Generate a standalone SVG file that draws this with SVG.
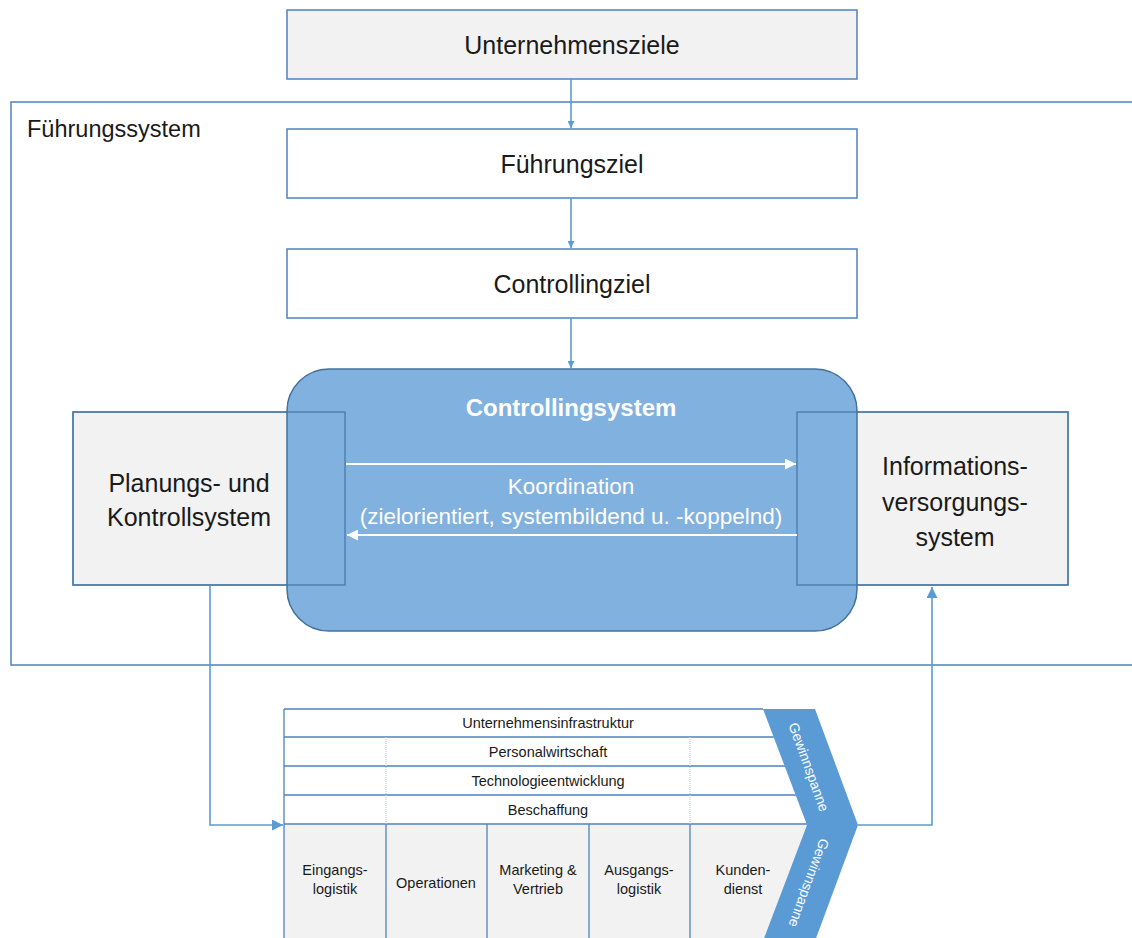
<svg xmlns="http://www.w3.org/2000/svg" width="1132" height="938" viewBox="0 0 1132 938">
  <style>
    text { font-family: "Liberation Sans", Arial, sans-serif; fill: #1a1a1a; text-anchor: middle; }
    .box { stroke: #4f81bd; stroke-width: 1.5; }
    .gray { fill: #f2f2f2; }
    .white { fill: #ffffff; }
    .lbl { font-size: 25px; }
    .side { font-size: 25px; }
    .small { font-size: 14.5px; }
    .wt { fill: #ffffff; }
    .conn { fill: none; stroke: #5b9bd5; stroke-width: 1.6; }
    .koord { fill: none; stroke: #ffffff; stroke-width: 2; }
    .row { stroke: #4f81bd; stroke-width: 1.3; }
    .div { stroke: #a9c8ea; stroke-width: 1; stroke-dasharray: 1 1; }
  </style>
  <defs>
    <marker id="arrBlue" viewBox="0 0 10 10" refX="10" refY="5" markerWidth="7" markerHeight="7" markerUnits="userSpaceOnUse" orient="auto">
      <path d="M0,0 L10,5 L0,10 z" fill="#5b9bd5"/>
    </marker>
    <marker id="arrBlueL" viewBox="0 0 10 10" refX="10" refY="5" markerWidth="11" markerHeight="11" markerUnits="userSpaceOnUse" orient="auto">
      <path d="M0,0 L10,5 L0,10 z" fill="#5b9bd5"/>
    </marker>
    <marker id="arrWhite" viewBox="0 0 10 10" refX="10" refY="5" markerWidth="11" markerHeight="11" markerUnits="userSpaceOnUse" orient="auto">
      <path d="M0,0 L10,5 L0,10 z" fill="#ffffff"/>
    </marker>
  </defs>

  <!-- frame of the management system, open to the right -->
  <g id="fuehrungssystem">
    <path d="M1140,102 L11,102 L11,665 L1140,665" fill="none" stroke="#4f81bd" stroke-width="1.5"/>
    <text x="27" y="137" style="text-anchor:start;font-size:23.5px">Führungssystem</text>
  </g>

  <g id="unternehmensziele">
    <rect class="box gray" x="287" y="10" width="570" height="69"/>
    <text class="lbl" x="572" y="54">Unternehmensziele</text>
  </g>

  <g id="fuehrungsziel">
    <rect class="box white" x="287" y="129" width="570" height="69"/>
    <text class="lbl" x="572" y="173">Führungsziel</text>
  </g>

  <g id="controllingziel">
    <rect class="box white" x="287" y="249" width="570" height="69"/>
    <text class="lbl" x="572" y="293">Controllingziel</text>
  </g>

  <g id="planung">
    <rect class="box gray" x="73" y="412" width="272" height="173" stroke="#41719c"/>
    <text class="side" x="189" y="492">Planungs- und</text>
    <text class="side" x="189" y="526">Kontrollsystem</text>
  </g>

  <g id="information">
    <rect class="box gray" x="797" y="412" width="271" height="173" stroke="#41719c"/>
    <text class="side" x="955" y="475">Informations-</text>
    <text class="side" x="955" y="511">versorgungs-</text>
    <text class="side" x="955" y="546">system</text>
  </g>

  <g id="controllingsystem">
    <rect x="287" y="369" width="570" height="262" rx="42" ry="42" fill="#7aaddc" fill-opacity="0.95" stroke="#41719c" stroke-width="1.5"/>
    <!-- edges of the side boxes seen through the central box -->
    <rect x="73" y="412" width="272" height="173" fill="none" stroke="#41719c" stroke-opacity="0.7" stroke-width="1.5"/>
    <rect x="797" y="412" width="271" height="173" fill="none" stroke="#41719c" stroke-opacity="0.7" stroke-width="1.5"/>
    <text class="wt" x="571" y="416" style="font-size:24px;font-weight:bold">Controllingsystem</text>
    <text class="wt" x="571" y="494" style="font-size:22.5px">Koordination</text>
    <text class="wt" x="571" y="524" style="font-size:22.5px">(zielorientiert, systembildend u. -koppelnd)</text>
  </g>

  <!-- Porter value chain -->
  <g id="wertkette">
    <!-- support activity rows -->
    <polygon points="284,709 763,709 807,825 284,825" fill="#ffffff"/>
    <!-- primary activities -->
    <polygon points="284,825 807,825 763,941 284,941" fill="#f2f2f2"/>
    <line class="row" x1="284" y1="709" x2="763" y2="709"/>
    <line class="row" x1="284" y1="737" x2="774" y2="737"/>
    <line class="row" x1="284" y1="766" x2="785" y2="766"/>
    <line class="row" x1="284" y1="795" x2="796" y2="795"/>
    <line class="row" x1="284" y1="824" x2="807" y2="824"/>
    <line class="row" x1="284" y1="709" x2="284" y2="938"/>
    <line class="div" x1="386" y1="737" x2="386" y2="824"/>
    <line class="div" x1="690" y1="737" x2="690" y2="824"/>
    <line class="row" x1="386" y1="824" x2="386" y2="938"/>
    <line class="row" x1="487" y1="824" x2="487" y2="938"/>
    <line class="row" x1="589" y1="824" x2="589" y2="938"/>
    <line class="row" x1="690" y1="824" x2="690" y2="938"/>
    <text class="small" x="548" y="728">Unternehmensinfrastruktur</text>
    <text class="small" x="548" y="757">Personalwirtschaft</text>
    <text class="small" x="548" y="786">Technologieentwicklung</text>
    <text class="small" x="548" y="815">Beschaffung</text>
    <text class="small" x="335" y="875">Eingangs-</text>
    <text class="small" x="335" y="894">logistik</text>
    <text class="small" x="436" y="888">Operationen</text>
    <text class="small" x="538" y="875">Marketing &amp;</text>
    <text class="small" x="538" y="894">Vertrieb</text>
    <text class="small" x="639" y="875">Ausgangs-</text>
    <text class="small" x="639" y="894">logistik</text>
    <text class="small" x="743" y="875">Kunden-</text>
    <text class="small" x="743" y="894">dienst</text>
    <polygon points="763,709 815,709 858,825 815,941 763,941 807,825" fill="#5b9bd5"/>
    <text class="wt" transform="translate(809,767) rotate(70)" style="font-size:14px" dy="5">Gewinnspanne</text>
    <text class="wt" transform="translate(809,883) rotate(110)" style="font-size:14px" dy="5">Gewinnspanne</text>
  </g>

  <g id="connectors">
    <line class="conn" x1="571" y1="79" x2="571" y2="128" marker-end="url(#arrBlue)"/>
    <line class="conn" x1="571" y1="198" x2="571" y2="248" marker-end="url(#arrBlue)"/>
    <line class="conn" x1="571" y1="318" x2="571" y2="368" marker-end="url(#arrBlue)"/>
    <path class="conn" d="M210,586 L210,825 L283,825" marker-end="url(#arrBlueL)"/>
    <path class="conn" d="M858,825 L932,825 L932,587" marker-end="url(#arrBlueL)"/>
    <line class="koord" x1="346" y1="464" x2="796" y2="464" marker-end="url(#arrWhite)"/>
    <line class="koord" x1="797" y1="535" x2="347" y2="535" marker-end="url(#arrWhite)"/>
  </g>
</svg>
